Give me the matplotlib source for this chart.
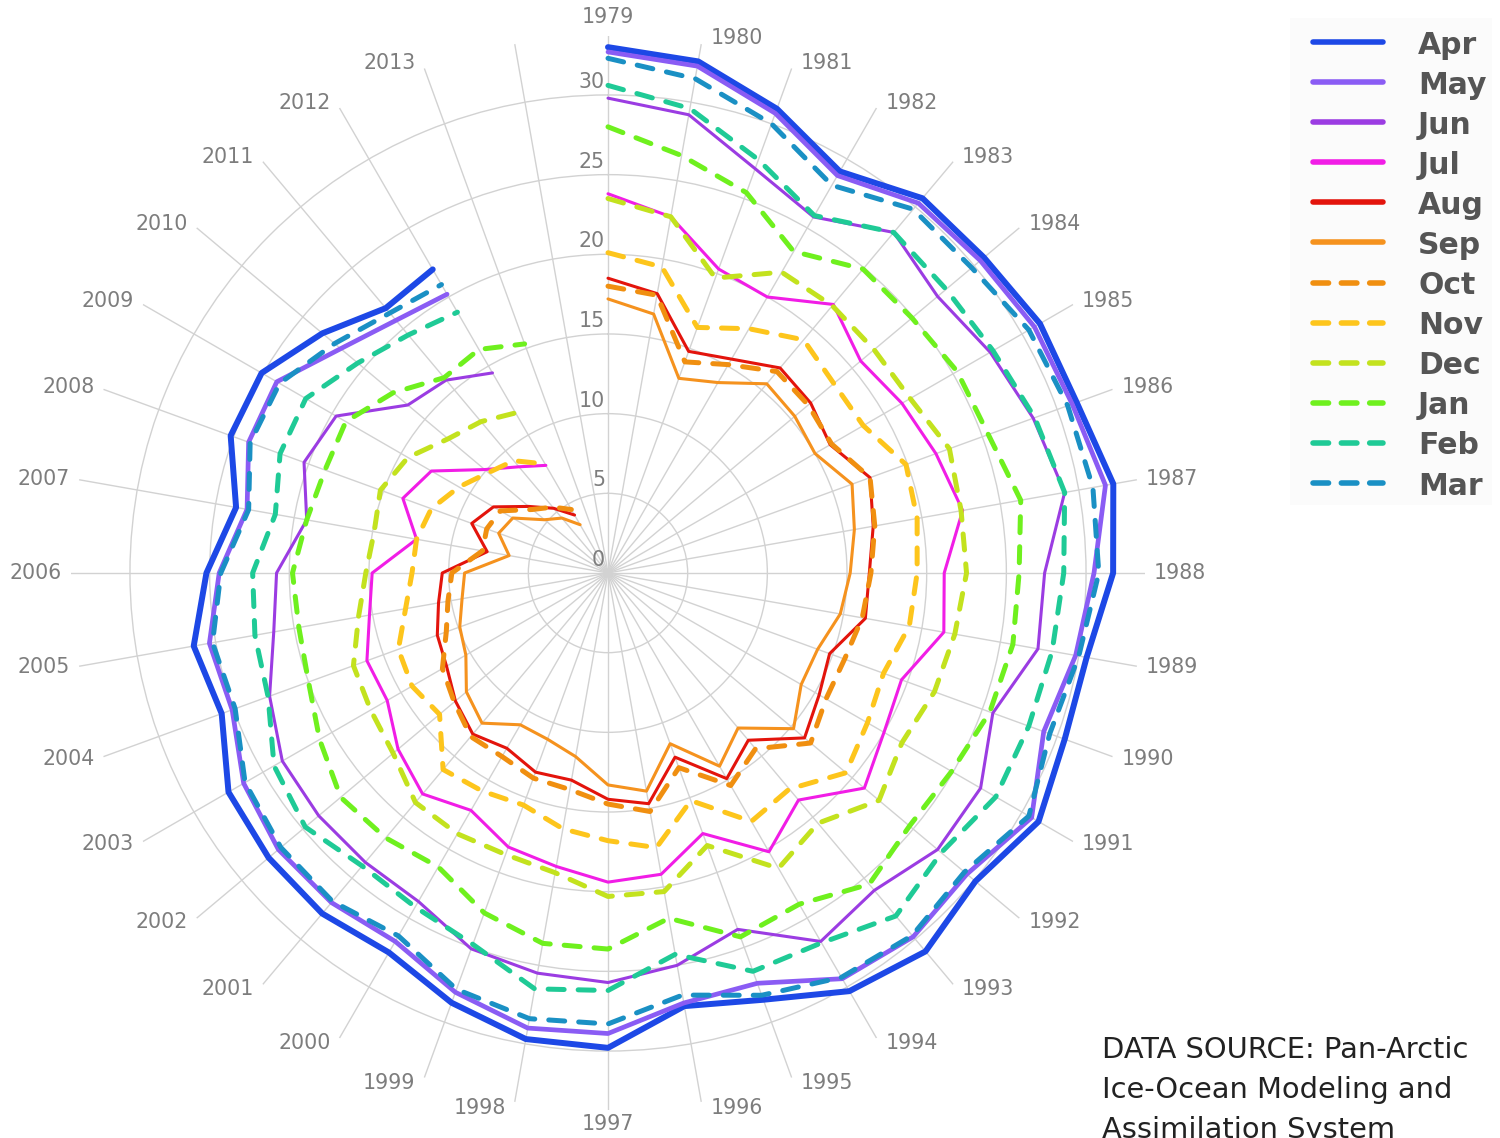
import numpy as np
import matplotlib

matplotlib.use("Agg")
import matplotlib.pyplot as plt
from matplotlib.lines import Line2D
from matplotlib.patches import Rectangle

# angular categories (one spoke per year, plus one empty spoke)
years = list(range(1979, 2014))
months = ["Apr", "May", "Jun", "Jul", "Aug", "Sep",
          "Oct", "Nov", "Dec", "Jan", "Feb", "Mar"]
radial_ticks = [0, 5, 10, 15, 20, 25, 30]

# sea ice volume, thousand km^3 (1979 onwards)
apr = [33.0, 32.6, 31.0, 29.1, 30.7, 30.8, 31.3, 31.3, 32.2, 31.7,
       30.5, 30.5, 31.2, 30.1, 31.0, 30.3, 28.5, 27.6, 29.8, 29.7,
       28.7, 27.5, 27.9, 27.8, 27.5, 25.8, 26.4, 25.2, 23.7, 25.2,
       25.1, 23.4, 21.7, 22.0]
may = [32.7, 32.3, 30.7, 28.8, 30.3, 30.5, 30.9, 31.0, 31.7, 30.5,
       29.8, 29.1, 30.7, 29.4, 29.8, 29.4, 27.4, 27.4, 28.9, 29.0,
       28.0, 26.7, 27.0, 27.0, 26.4, 25.1, 25.4, 24.4, 23.0, 24.0,
       24.0, 21.9, 20.7, 20.2]
jun = [29.8, 29.2, 27.0, 25.8, 27.9, 27.0, 27.7, 28.4, 29.1, 27.4,
       27.4, 25.7, 27.0, 27.0, 26.0, 26.7, 23.8, 25.0, 25.7, 25.5,
       25.1, 23.8, 23.7, 23.7, 23.6, 22.6, 21.3, 20.8, 19.2, 20.3,
       19.7, 16.4, 15.8, 14.5]
jul = [23.8, 22.7, 20.3, 20.0, 22.0, 20.7, 21.3, 21.9, 22.6, 21.1,
       21.4, 19.6, 20.0, 21.0, 18.6, 20.2, 17.4, 19.2, 19.4, 18.7,
       18.3, 17.2, 18.1, 17.2, 16.0, 16.1, 15.2, 14.8, 12.2, 13.7,
       12.8, 10.1, 8.7, 7.8]
aug = [18.5, 17.8, 14.8, 15.5, 16.8, 16.6, 16.1, 17.5, 16.9, 16.4,
       16.4, 14.8, 15.3, 16.1, 13.7, 14.9, 12.3, 14.7, 14.2, 13.2,
       13.3, 12.7, 13.2, 12.5, 11.7, 11.4, 10.8, 10.4, 7.7, 9.1,
       8.3, 6.5, 5.3, 4.2]
sep = [17.2, 16.5, 13.0, 13.8, 15.5, 15.3, 15.0, 16.3, 15.7, 15.2,
       14.8, 14.0, 14.0, 15.2, 12.7, 14.0, 11.4, 13.9, 13.3, 11.7,
       11.1, 11.0, 12.3, 11.6, 10.3, 9.9, 9.3, 9.0, 6.3, 7.3,
       6.9, 5.2, 4.5, 3.5]
oct_ = [18.0, 17.7, 14.1, 15.1, 16.5, 16.4, 16.2, 17.5, 17.0, 16.5,
        16.2, 15.8, 15.8, 16.6, 14.4, 15.4, 13.0, 15.2, 14.5, 13.8,
        13.7, 13.3, 13.4, 12.6, 12.0, 10.8, 10.2, 9.8, 8.0, 8.1,
        7.8, 6.2, 5.4, 4.6]
nov = [20.1, 19.5, 16.4, 17.7, 19.1, 18.5, 18.5, 19.9, 19.7, 19.4,
       19.2, 18.4, 18.8, 19.5, 17.7, 18.0, 15.2, 17.5, 16.8, 16.3,
       15.5, 15.8, 16.1, 13.8, 14.2, 14.0, 12.9, 12.3, 12.2, 11.8,
       10.8, 9.8, 9.2, 7.9]
dec = [23.5, 22.7, 19.7, 21.8, 21.9, 21.8, 21.9, 22.8, 22.5, 22.5,
       22.1, 21.8, 21.3, 22.2, 20.5, 21.4, 18.2, 20.3, 20.3, 19.1,
       18.8, 18.9, 18.8, 17.6, 17.2, 17.0, 15.9, 15.2, 14.9, 15.2,
       14.5, 13.1, 12.4, 11.6]
jan = [28.0, 26.6, 25.4, 23.3, 24.9, 24.9, 25.3, 25.4, 26.3, 25.8,
       25.8, 25.5, 24.9, 24.7, 25.5, 24.0, 24.3, 22.0, 23.6, 23.6,
       22.7, 21.3, 21.7, 21.9, 20.9, 20.0, 19.7, 19.8, 19.2, 18.9,
       19.0, 17.6, 16.0, 16.2, 15.3]
feb = [30.6, 29.6, 27.6, 25.9, 27.9, 27.7, 27.9, 28.5, 29.1, 28.6,
       28.3, 28.1, 28.1, 27.3, 28.1, 26.8, 26.6, 24.3, 26.2, 26.5,
       24.8, 24.2, 24.0, 24.8, 24.2, 22.7, 22.5, 22.3, 21.2, 21.9,
       21.9, 20.5, 19.5, 18.9]
mar = [32.3, 31.5, 30.0, 28.1, 29.8, 29.8, 30.5, 30.7, 30.9, 30.8,
       30.0, 29.5, 30.5, 29.2, 29.7, 29.3, 28.2, 26.9, 28.3, 28.4,
       27.8, 26.3, 26.9, 26.8, 26.3, 24.9, 25.2, 24.3, 22.9, 23.9,
       23.8, 22.4, 21.3, 20.9]

series = [apr, may, jun, jul, aug, sep, oct_, nov, dec, jan, feb, mar]
colors = ["#1d48e6", "#8a5cf4", "#9b3ce2", "#f11de6", "#e3140c", "#f5921e",
          "#f08f10", "#fdc51c", "#c3e21e", "#6ff01e", "#1fca96", "#1a90c4"]
widths = [4.3, 3.4, 2.2, 2.2, 2.2, 2.2, 3.6, 3.6, 3.6, 3.6, 3.6, 3.6]
dashed = [False] * 6 + [True] * 6

W, H = 1500, 1138
CX, CY, R_PX = 608, 573, 537
R_MAX = 33.7
GRID = "#d2d2d2"
TICK_GRAY = "#7d7d7d"

fig = plt.figure(figsize=(W / 100, H / 100), dpi=100)
ax = fig.add_axes([(CX - R_PX) / W, (H - CY - R_PX) / H, 2 * R_PX / W, 2 * R_PX / H],
                  projection="polar")
ax.set_theta_zero_location("N")
ax.set_theta_direction(-1)
ax.set_rlim(0, R_MAX)
ax.spines["polar"].set_visible(False)

ax.set_xticks(np.radians(np.arange(0, 360, 10)))
ax.set_xticklabels([])
ax.set_yticks(radial_ticks)
ax.set_yticklabels([])
ax.grid(True, color=GRID, linewidth=1.0)
ax.tick_params(length=0)

for vals, col, lw, is_dash in zip(series, colors, widths, dashed):
    theta = np.radians(10 * np.arange(len(vals)))
    kw = dict(color=col, linewidth=lw, solid_capstyle="round",
              solid_joinstyle="round", dash_capstyle="round",
              dash_joinstyle="round")
    if is_dash:
        kw["dashes"] = (3.2, 2.8)
    ax.plot(theta, vals, **kw)

# year labels around the outside
for i, yr in enumerate(years):
    ang = np.radians(10 * i)
    s, c = np.sin(ang), np.cos(ang)
    if abs(s) < 0.01:
        ha = "center"
        va = "bottom" if c > 0 else "top"
        off = (0, 9 if c > 0 else -4)
    else:
        ha = "left" if s > 0 else "right"
        va = "center"
        off = (9 * np.sign(s), 6 * c)
    ax.annotate(str(yr), xy=(ang, R_MAX), xytext=off,
                textcoords="offset pixels", ha=ha, va=va,
                fontsize=14.8, color=TICK_GRAY, annotation_clip=False)

# radial labels along the 1979 spoke
for v in radial_ticks:
    ax.annotate(str(v), xy=(0, v), xytext=(-3, 3), textcoords="offset pixels",
                ha="right", va="bottom", fontsize=14.8, color=TICK_GRAY)

# legend, drawn by hand on the right
fig.add_artist(Rectangle((1290 / W, 1 - 505 / H), 202 / W, 487 / H,
                         transform=fig.transFigure, facecolor="#fbfbfb",
                         edgecolor="none", zorder=0))
for i, (name, col, is_dash) in enumerate(zip(months, colors, dashed)):
    y = 1 - (42 + 40.1 * i) / H
    ln = Line2D([1313 / W, 1383 / W], [y, y], transform=fig.transFigure,
                color=col, linewidth=4.0, solid_capstyle="round",
                dash_capstyle="round")
    if is_dash:
        ln.set_dashes((2.8, 2.3))
    fig.add_artist(ln)
    fig.text(1418 / W, y, name, fontsize=21.5, fontweight="bold",
             color="#555555", ha="left", va="center_baseline")

source_lines = ["DATA SOURCE: Pan-Arctic", "Ice-Ocean Modeling and",
                "Assimilation System"]
for k, line in enumerate(source_lines):
    fig.text(1102 / W, 1 - (1058 + 40 * k) / H, line, fontsize=20.8,
             color="#222222", ha="left", va="baseline")

fig.savefig("out.png", dpi=100)
